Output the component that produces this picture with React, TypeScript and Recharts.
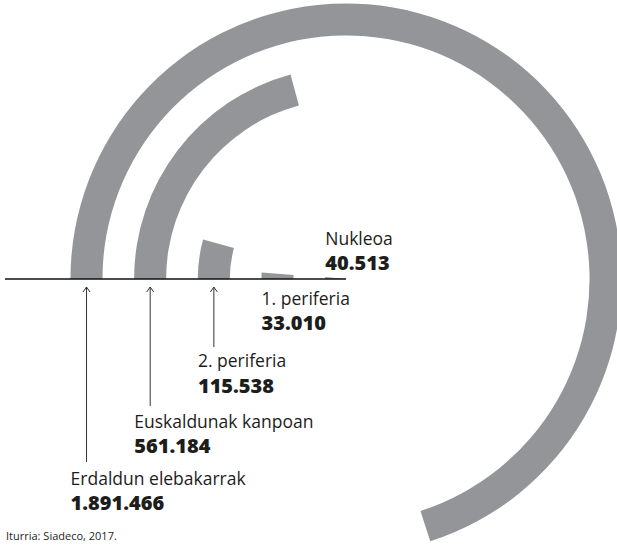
import React from 'react';
import { RadialBarChart, RadialBar, PolarAngleAxis, PolarRadiusAxis } from 'recharts';

// ---- data ----
const categories = ['Nukleoa', '1. periferia', '2. periferia', 'Euskaldunak kanpoan', 'Erdaldun elebakarrak'];
const values = [40513, 33010, 115538, 561184, 1891466];
const angleDomainMax = 2700000;
const sourceText = 'Iturria: Siadeco, 2017.';

// ---- layout ----
const W = 617;
const H = 545;
const CX = 346;
const CY = 279;
const INNER = -27;
const OUTER = 291.3;
const GAP = '25%';
const BAR_COLOR = '#939598';
const TEXT_COLOR = '#1d1d1b';
const FONT = '"Open Sans", "Noto Sans", sans-serif';

// baselines for name / value text per category
const nameBaseline = [245, 304.5, 367, 427.5, 485];
const valueBaseline = [270, 329.5, 392.5, 452.5, 510];
// arrow bottoms (categories with arrows)
const arrowBottom: (number | null)[] = [null, null, 347, 406, 462];

const data = categories.map((name, i) => ({ name, value: values[i] }));

function fmt(v: number): string {
  const s = String(Math.round(v));
  let out = '';
  for (let i = 0; i < s.length; i++) {
    const fromEnd = s.length - i;
    out += s[i];
    if (fromEnd > 1 && (fromEnd - 1) % 3 === 0) out += '.';
  }
  return out;
}

const step = (OUTER - INNER) / categories.length;
const barHalf = step / 4; // 25% gap on each side -> bar = half the band
const bandCenter = (i: number) => INNER + step * (i + 0.5);

export default function App() {
  return (
    <div style={{ position: 'absolute', left: 0, top: 0, width: W, height: H, background: '#fff' }}>
      <RadialBarChart
        width={W}
        height={H}
        data={data}
        cx={CX}
        cy={CY}
        innerRadius={INNER}
        outerRadius={OUTER}
        startAngle={180}
        endAngle={-180}
        barCategoryGap={GAP}
        margin={{ top: 0, right: 0, bottom: 0, left: 0 }}
      >
        <PolarAngleAxis type="number" domain={[0, angleDomainMax]} tick={false} axisLine={false} />
        <PolarRadiusAxis type="category" dataKey="name" tick={false} axisLine={false} />
        <RadialBar dataKey="value" fill={BAR_COLOR} isAnimationActive={false} />
      </RadialBarChart>
      <svg
        width={W}
        height={H}
        style={{ position: 'absolute', left: 0, top: 0, pointerEvents: 'none' }}
      >
        <line x1={5} y1={CY} x2={CX} y2={CY} stroke="#111" strokeWidth={1.3} />
        {categories.map((name, i) => {
          const xText = CX - (bandCenter(i) + barHalf);
          const xArrow = CX - bandCenter(i);
          const bottom = arrowBottom[i];
          return (
            <g key={name}>
              {bottom !== null && (
                <g stroke="#333" strokeWidth={1} fill="none">
                  <line x1={xArrow} y1={CY + 8} x2={xArrow} y2={bottom} />
                  <polyline points={`${xArrow - 3.5},${CY + 13} ${xArrow},${CY + 8} ${xArrow + 3.5},${CY + 13}`} />
                </g>
              )}
              <text x={xText} y={nameBaseline[i]} fontFamily={FONT} fontSize={17.5} fill={TEXT_COLOR}>
                {name}
              </text>
              <text x={xText} y={valueBaseline[i]} fontFamily={FONT} fontSize={20} fontWeight={800} fill={TEXT_COLOR}>
                {fmt(values[i])}
              </text>
            </g>
          );
        })}
        <text x={6} y={540} fontFamily={FONT} fontSize={11} fill={TEXT_COLOR}>
          {sourceText}
        </text>
      </svg>
    </div>
  );
}
